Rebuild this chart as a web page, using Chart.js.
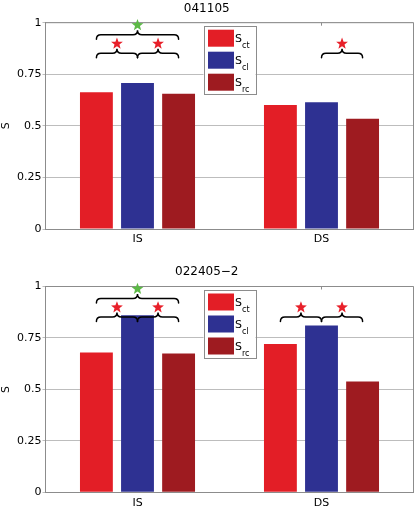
<!DOCTYPE html>
<html>
<head>
<meta charset="utf-8">
<script src="https://cdn.jsdelivr.net/npm/chart.js@4/dist/chart.umd.min.js"></script>
<style>
  html, body { margin: 0; padding: 0; background: #fff; }
  #wrap { position: relative; width: 415px; height: 508px; }
  canvas { position: absolute; left: 0; }
</style>
</head>
<body>
<div id="wrap">
  <canvas id="chartTop" width="415" height="254" style="top:0"></canvas>
  <canvas id="chartBottom" width="415" height="254" style="top:254px"></canvas>
</div>
<script>
// ---------- data ----------
const categories = ['IS', 'DS'];
const legendMain = 'S';
const seriesSubs = ['ct', 'cl', 'rc'];
const seriesColors = ['#e31e26', '#2e3192', '#9e1b20'];
const yTickValues = [0, 0.25, 0.5, 0.75, 1];
const yAxisLabel = 'S';

const titleTop = '041105';
const topCt = [0.663, 0.601];
const topCl = [0.708, 0.614];
const topRc = [0.655, 0.534];

const titleBottom = '022405\u22122';
const bottomCt = [0.679, 0.720];
const bottomCl = [0.860, 0.811];
const bottomRc = [0.674, 0.538];

// significance markers: category index, from series, to series, row, star colour
const braceRowValues = { upper: 0.942, lower: 0.852 };
const sigTop = [
  { cat: 0, a: 0, b: 2, row: 'upper', star: '#5cb946' },
  { cat: 0, a: 0, b: 1, row: 'lower', star: '#e8202a' },
  { cat: 0, a: 1, b: 2, row: 'lower', star: '#e8202a' },
  { cat: 1, a: 1, b: 2, row: 'lower', star: '#e8202a' }
];
const sigBottom = [
  { cat: 0, a: 0, b: 2, row: 'upper', star: '#5cb946' },
  { cat: 0, a: 0, b: 1, row: 'lower', star: '#e8202a' },
  { cat: 0, a: 1, b: 2, row: 'lower', star: '#e8202a' },
  { cat: 1, a: 0, b: 1, row: 'lower', star: '#e8202a' },
  { cat: 1, a: 1, b: 2, row: 'lower', star: '#e8202a' }
];

// ---------- drawing helpers ----------
const FONT = "'DejaVu Sans', sans-serif";
const AXIS_COLOR = '#8c8c8c';

function drawBrace(ctx, x1, x2, y) {
  const h = 4.5;
  const xm = (x1 + x2) / 2;
  ctx.beginPath();
  ctx.moveTo(x1, y + h);
  ctx.quadraticCurveTo(x1, y, x1 + h, y);
  ctx.lineTo(xm - h, y);
  ctx.quadraticCurveTo(xm, y, xm, y - h);
  ctx.quadraticCurveTo(xm, y, xm + h, y);
  ctx.lineTo(x2 - h, y);
  ctx.quadraticCurveTo(x2, y, x2, y + h);
  ctx.stroke();
}

function drawStar(ctx, cx, cy, color) {
  const R = 6.2, r = 2.6;
  ctx.beginPath();
  for (let i = 0; i < 10; i++) {
    const rad = i % 2 === 0 ? R : r;
    const ang = -Math.PI / 2 + i * Math.PI / 5;
    const px = cx + rad * Math.cos(ang);
    const py = cy + rad * Math.sin(ang);
    if (i === 0) ctx.moveTo(px, py); else ctx.lineTo(px, py);
  }
  ctx.closePath();
  ctx.fillStyle = color;
  ctx.fill();
}

const overlayPlugin = {
  id: 'overlay',
  afterDatasetsDraw(chart) {
    const ctx = chart.ctx;
    const area = chart.chartArea;
    const yScale = chart.scales.y;
    const xScale = chart.scales.x;
    ctx.save();
    // frame: top and right
    ctx.strokeStyle = AXIS_COLOR;
    ctx.lineWidth = 1;
    ctx.beginPath();
    ctx.moveTo(area.left, area.top);
    ctx.lineTo(area.right, area.top);
    ctx.lineTo(area.right, area.bottom);
    ctx.stroke();
    // top inside ticks at category positions
    categories.forEach((c, i) => {
      const x = xScale.getPixelForValue(i);
      ctx.beginPath();
      ctx.moveTo(x, area.top);
      ctx.lineTo(x, area.top + 3);
      ctx.stroke();
    });
    // significance braces and stars
    const sig = chart.options.plugins.overlay.sig;
    ctx.strokeStyle = '#000';
    ctx.lineWidth = 1.5;
    ctx.lineCap = 'round';
    sig.forEach(s => {
      const xa = chart.getDatasetMeta(s.a).data[s.cat].x;
      const xb = chart.getDatasetMeta(s.b).data[s.cat].x;
      const y = yScale.getPixelForValue(braceRowValues[s.row]);
      drawBrace(ctx, xa, xb, y);
    });
    sig.forEach(s => {
      const xa = chart.getDatasetMeta(s.a).data[s.cat].x;
      const xb = chart.getDatasetMeta(s.b).data[s.cat].x;
      const y = yScale.getPixelForValue(braceRowValues[s.row]);
      drawStar(ctx, (xa + xb) / 2, y - 9.5, s.star);
    });
    // legend box
    const lx = area.left + 158, ly = area.top + 3, lw = 52, lh = 68;
    ctx.fillStyle = '#fff';
    ctx.fillRect(lx, ly, lw, lh);
    ctx.strokeStyle = AXIS_COLOR;
    ctx.lineWidth = 1;
    ctx.strokeRect(Math.round(lx) + 0.5, Math.round(ly) + 0.5, lw, lh);
    chart.data.datasets.forEach((ds, i) => {
      const rowTop = ly + 4 + i * 22;
      ctx.fillStyle = ds.backgroundColor;
      ctx.fillRect(lx + 4.5, rowTop, 26, 17);
      ctx.fillStyle = '#000';
      ctx.textBaseline = 'alphabetic';
      ctx.textAlign = 'left';
      ctx.font = '11px ' + FONT;
      ctx.fillText(legendMain, lx + 31.5, rowTop + 12);
      ctx.font = '8px ' + FONT;
      ctx.fillText(seriesSubs[i], lx + 38.5, rowTop + 18);
    });
    ctx.restore();
  }
};

function makeChart(canvasId, title, ct, cl, rc, sig, titlePad, xHeight) {
  const values = [ct, cl, rc];
  return new Chart(document.getElementById(canvasId), {
    type: 'bar',
    data: {
      labels: categories,
      datasets: values.map((v, i) => ({
        label: legendMain + ' ' + seriesSubs[i],
        data: v,
        backgroundColor: seriesColors[i],
        borderWidth: 0,
        categoryPercentage: 0.67,
        barPercentage: 0.8
      }))
    },
    options: {
      responsive: false,
      animation: false,
      layout: { padding: { left: 0, right: 1.5, top: 0, bottom: 0 } },
      plugins: {
        legend: { display: false },
        tooltip: { enabled: false },
        title: {
          display: true,
          text: title,
          color: '#000',
          font: { family: FONT, size: 12, weight: 'normal' },
          padding: titlePad
        },
        overlay: { sig: sig }
      },
      scales: {
        x: {
          type: 'category',
          offset: true,
          grid: { display: false, drawTicks: false },
          border: { display: true, color: AXIS_COLOR, width: 1 },
          ticks: { color: '#000', font: { family: FONT, size: 11 }, padding: 4 },
          afterFit(scale) { scale.height = xHeight; }
        },
        y: {
          min: 0,
          max: 1,
          afterBuildTicks(scale) { scale.ticks = yTickValues.map(v => ({ value: v })); },
          grid: { color: '#bdbdbd', lineWidth: 1, drawTicks: true, tickLength: 3 },
          border: { display: true, color: AXIS_COLOR, width: 1 },
          ticks: {
            color: '#000',
            font: { family: FONT, size: 11 },
            padding: 1,
            callback: (v) => String(v)
          },
          title: {
            display: true,
            text: yAxisLabel,
            color: '#000',
            font: { family: FONT, size: 11 },
            padding: { top: 0, bottom: 0 }
          },
          afterFit(scale) { scale.width = 45.5; }
        }
      }
    },
    plugins: [overlayPlugin]
  });
}

makeChart('chartTop', titleTop, topCt, topCl, topRc, sigTop, { top: 2, bottom: 6.3 }, 25);
makeChart('chartBottom', titleBottom, bottomCt, bottomCl, bottomRc, sigBottom, { top: 11, bottom: 7.1 }, 15.7);
</script>
</body>
</html>
